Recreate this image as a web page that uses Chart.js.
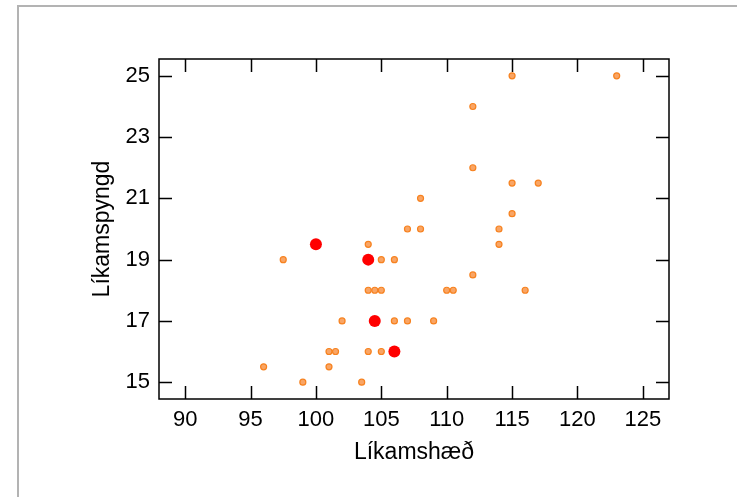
<!DOCTYPE html>
<html><head><meta charset="utf-8">
<script src="https://cdn.jsdelivr.net/npm/chart.js@4.4.0/dist/chart.umd.min.js"></script>
<style>
html,body{margin:0;padding:0;background:#fff;overflow:hidden;width:737px;height:497px;}
#frame{position:absolute;left:17px;top:5px;width:800px;height:600px;border-top:2px solid #b3b3b3;border-left:2px solid #b3b3b3;}
canvas{position:absolute;left:0;top:0;}
</style></head><body>
<div id="frame"></div>
<canvas id="c" width="737" height="497"></canvas>
<script>
const xTitle = 'Líkamshæð';
const yTitle = 'Líkamspyngd';
const xTicks = [90, 95, 100, 105, 110, 115, 120, 125];
const yTicks = [15, 17, 19, 21, 23, 25];
const orangeX = [123, 115, 112, 112, 115, 117, 108, 115, 107, 108, 114, 97.5, 104, 114, 105, 106, 112, 104, 104.5, 105, 110, 110.5, 116, 102, 106, 107, 109, 101, 101.5, 104, 105, 96, 101, 99, 103.5];
const orangeY = [25, 25, 24, 22, 21.5, 21.5, 21, 20.5, 20, 20, 20, 19, 19.5, 19.5, 19, 19, 18.5, 18, 18, 18, 18, 18, 18, 17, 17, 17, 17, 16, 16, 16, 16, 15.5, 15.5, 15, 15];
const redX = [100, 104, 104.5, 106];
const redY = [19.5, 19, 17, 16];

Chart.defaults.font.family = "'Liberation Sans', Arial, sans-serif";
Chart.defaults.color = '#000';

const frameTicks = {
  id: 'frameTicks',
  afterDraw(chart) {
    const {ctx, chartArea: a, scales: {x, y}} = chart;
    ctx.save();
    ctx.strokeStyle = '#000';
    ctx.lineWidth = 1.5;
    ctx.strokeRect(a.left, a.top, a.right - a.left, a.bottom - a.top);
    const L = 13;
    ctx.beginPath();
    x.ticks.forEach(t => {
      const p = Math.round(x.getPixelForValue(t.value)) + 0.5;
      ctx.moveTo(p, a.bottom); ctx.lineTo(p, a.bottom - L);
      ctx.moveTo(p, a.top); ctx.lineTo(p, a.top + L);
    });
    y.ticks.forEach(t => {
      const p = Math.round(y.getPixelForValue(t.value)) + 0.5;
      ctx.moveTo(a.left, p); ctx.lineTo(a.left + L, p);
      ctx.moveTo(a.right, p); ctx.lineTo(a.right - L, p);
    });
    ctx.stroke();
    ctx.restore();
  }
};

new Chart(document.getElementById('c'), {
  type: 'scatter',
  data: {
    datasets: [
      {
        data: redX.map((v, i) => ({x: v, y: redY[i]})),
        backgroundColor: '#ff0000', borderColor: '#ff0000', borderWidth: 0,
        pointRadius: 6, pointHoverRadius: 6
      },
      {
        data: orangeX.map((v, i) => ({x: v, y: orangeY[i]})),
        backgroundColor: '#f9a565', borderColor: '#f7821f', borderWidth: 1.2,
        pointRadius: 3, pointHoverRadius: 3
      }
    ]
  },
  options: {
    responsive: false,
    animation: false,
    layout: {padding: {left: 0, top: 59, right: 68, bottom: 0}},
    plugins: {legend: {display: false}, tooltip: {enabled: false}},
    scales: {
      x: {
        type: 'linear', min: 88, max: 127,
        afterBuildTicks: s => { s.ticks = xTicks.map(v => ({value: v})); },
        afterFit: s => { s.height = 98; },
        grid: {display: false, drawTicks: false},
        border: {display: false},
        ticks: {color: '#000', font: {size: 22}, padding: 8, maxRotation: 0, autoSkip: false, callback: v => String(v)},
        title: {display: true, text: xTitle, color: '#000', font: {size: 23}, padding: {top: 0, bottom: 31}}
      },
      y: {
        type: 'linear', min: 14.45, max: 25.55,
        afterBuildTicks: s => { s.ticks = yTicks.map(v => ({value: v})); },
        afterFit: s => { s.width = 159; },
        grid: {display: false, drawTicks: false},
        border: {display: false},
        ticks: {color: '#000', font: {size: 22}, padding: 9, autoSkip: false, callback: v => String(v)},
        title: {display: true, text: yTitle, color: '#000', font: {size: 23}, padding: {top: 89, bottom: 0}}
      }
    }
  },
  plugins: [frameTicks]
});
</script>
</body></html>
